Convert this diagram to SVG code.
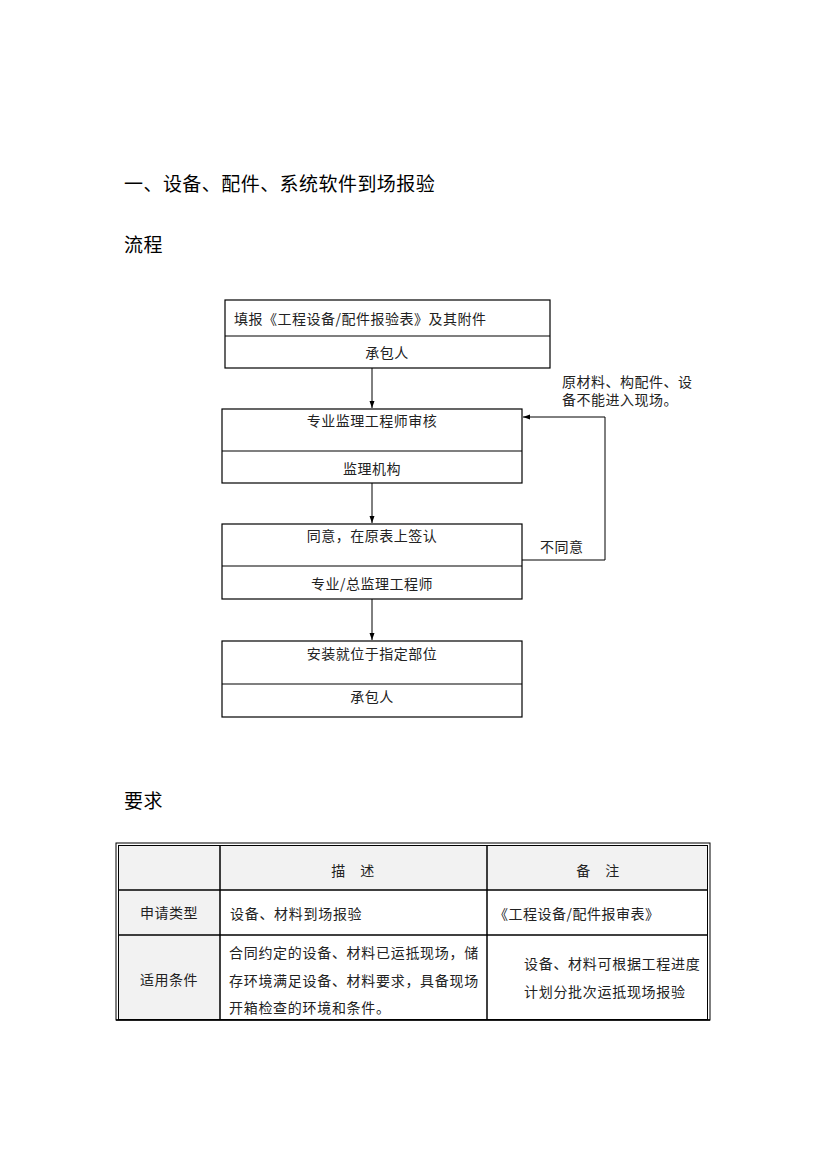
<svg xmlns="http://www.w3.org/2000/svg" width="826" height="1169" viewBox="0 0 826 1169">
<defs>
<marker id="ah" markerWidth="8" markerHeight="8" refX="7" refY="4" orient="auto" markerUnits="userSpaceOnUse">
<path d="M0,1.5 L7,4 L0,6.5 Z" fill="#000"/>
</marker>
<style>
.h{font-family:"Noto Sans CJK SC","Noto Sans",sans-serif;font-size:19px;fill:#000;letter-spacing:0.45px;}
.t{font-family:"Noto Sans CJK SC","Noto Sans",sans-serif;font-size:14px;fill:#222;letter-spacing:0.5px;}
.w{letter-spacing:0.7px;}
.box{fill:#fff;stroke:#000;stroke-width:1.2;}
.ln{stroke:#000;stroke-width:1.2;fill:none;}
.cn{stroke:#000;stroke-width:1;fill:none;}
.cell{stroke:#000;stroke-width:1.5;fill:none;}
.shade{fill:#f2f2f2;}
</style>
</defs>
<rect width="826" height="1169" fill="#fff"/>
<text class="h" x="124" y="191">一、设备、配件、系统软件到场报验</text>
<text class="h" x="124" y="252">流程</text>
<text class="h" x="124" y="808">要求</text>

<g id="connectors">
<line class="cn" x1="372" y1="368" x2="372" y2="408" marker-end="url(#ah)"/>
<line class="cn" x1="372" y1="483" x2="372" y2="523" marker-end="url(#ah)"/>
<line class="cn" x1="372" y1="599" x2="372" y2="640" marker-end="url(#ah)"/>
<polyline class="cn" points="522,560 605,560 605,417 523,417" marker-end="url(#ah)"/>
<text class="t" x="562" y="387">原材料、构配件、设</text>
<text class="t" x="562" y="405">备不能进入现场。</text>
<text class="t" x="540" y="552">不同意</text>
</g>

<g id="node1">
<rect class="box" x="225" y="300" width="325" height="68"/>
<line class="ln" x1="225" y1="336" x2="550" y2="336"/>
<text class="t" x="234" y="324">填报《工程设备/配件报验表》及其附件</text>
<text class="t" x="387" y="358" text-anchor="middle">承包人</text>
</g>
<g id="node2">
<rect class="box" x="222" y="409" width="300" height="74"/>
<line class="ln" x1="222" y1="451" x2="522" y2="451"/>
<text class="t" x="372" y="426" text-anchor="middle">专业监理工程师审核</text>
<text class="t" x="372" y="474" text-anchor="middle">监理机构</text>
</g>
<g id="node3">
<rect class="box" x="222" y="524" width="300" height="75"/>
<line class="ln" x1="222" y1="566" x2="522" y2="566"/>
<text class="t" x="372" y="541" text-anchor="middle">同意，在原表上签认</text>
<text class="t" x="372" y="589" text-anchor="middle">专业/总监理工程师</text>
</g>
<g id="node4">
<rect class="box" x="222" y="641" width="300" height="76"/>
<line class="ln" x1="222" y1="684" x2="522" y2="684" stroke-width="2"/>
<text class="t" x="372" y="659" text-anchor="middle">安装就位于指定部位</text>
<text class="t" x="372" y="702" text-anchor="middle">承包人</text>
</g>

<g id="table">
<rect class="shade" x="118" y="845" width="590" height="45"/>
<rect class="shade" x="118" y="890" width="102" height="130"/>
<rect x="116" y="843" width="594" height="177" fill="none" stroke="#000" stroke-width="1"/>
<rect x="118.5" y="845.5" width="589" height="174" fill="none" stroke="#000" stroke-width="1"/>
<line class="cell" x1="118" y1="890" x2="708" y2="890"/>
<line class="cell" x1="118" y1="935" x2="708" y2="935"/>
<line class="cell" x1="220" y1="845" x2="220" y2="1020"/>
<line class="cell" x1="487" y1="845" x2="487" y2="1020"/>
<line x1="116" y1="1020" x2="710" y2="1020" stroke="#000" stroke-width="1.5"/>
<text class="t" x="353" y="876" text-anchor="middle">描　述</text>
<text class="t" x="598" y="876" text-anchor="middle">备　注</text>
<text class="t" x="169" y="918" text-anchor="middle">申请类型</text>
<text class="t w" x="230" y="919">设备、材料到场报验</text>
<text class="t" x="494" y="919">《工程设备/配件报审表》</text>
<text class="t" x="169" y="985" text-anchor="middle">适用条件</text>
<text class="t w" x="229" y="958" font-size="14.5">合同约定的设备、材料已运抵现场，储</text>
<text class="t w" x="229" y="986" font-size="14.5">存环境满足设备、材料要求，具备现场</text>
<text class="t w" x="229" y="1013" font-size="14.5">开箱检查的环境和条件。</text>
<text class="t w" x="524" y="969" font-size="14.5">设备、材料可根据工程进度</text>
<text class="t w" x="524" y="997" font-size="14.5">计划分批次运抵现场报验</text>
</g>
</svg>
